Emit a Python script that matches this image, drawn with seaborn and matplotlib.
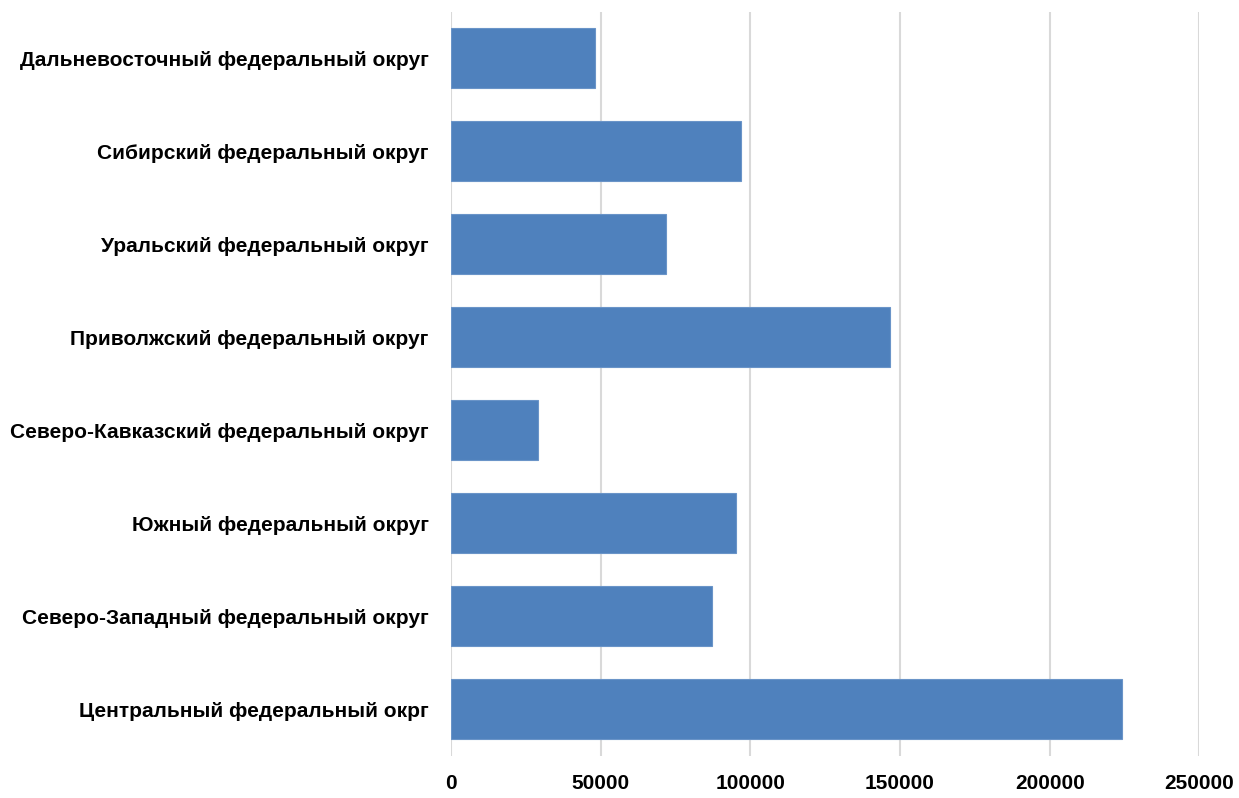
import pandas as pd
import numpy as np
import matplotlib.pyplot as plt
import seaborn as sns

# Данные по федеральным округам (сверху вниз)
okruga = ['Дальневосточный федеральный округ',
          'Сибирский федеральный округ',
          'Уральский федеральный округ',
          'Приволжский федеральный округ',
          'Северо-Кавказский федеральный округ',
          'Южный федеральный округ',
          'Северо-Западный федеральный округ',
          'Центральный федеральный окрг']
znacheniya = [48200, 97000, 71900, 146800, 29100, 95300, 87300, 224100]
x_ticks = [0, 50000, 100000, 150000, 200000, 250000]

Base_Dados = pd.DataFrame({'okrug': okruga, 'value': znacheniya})

sns.set_style('white')
plt.rcParams['font.family'] = ['Liberation Sans', 'DejaVu Sans']

fig = plt.figure(figsize=(12.39, 7.98), dpi=100)
ax = fig.add_axes([0.364, 0.053, 0.604, 0.932])

sns.barplot(data=Base_Dados, x='value', y='okrug', orient='h',
            color='#4F81BD', saturation=1, width=0.645, ax=ax,
            edgecolor='#6A94C8', linewidth=0.8)

ax.set_xlim(0, 250000)
ax.set_xticks(x_ticks)
ax.set_xticklabels([str(t) for t in x_ticks], fontsize=15, fontweight='bold', color='black')
ax.set_yticklabels(okruga, fontsize=15, fontweight='bold', color='black')
ax.tick_params(axis='x', length=0, pad=13)
ax.tick_params(axis='y', length=0, pad=16)
ax.set_xlabel('')
ax.set_ylabel('')
ax.grid(axis='x', color='#D9D9D9', linewidth=1.5)
ax.set_axisbelow(True)
for s in ax.spines.values():
    s.set_visible(False)

fig.savefig('out.png', dpi=100)
